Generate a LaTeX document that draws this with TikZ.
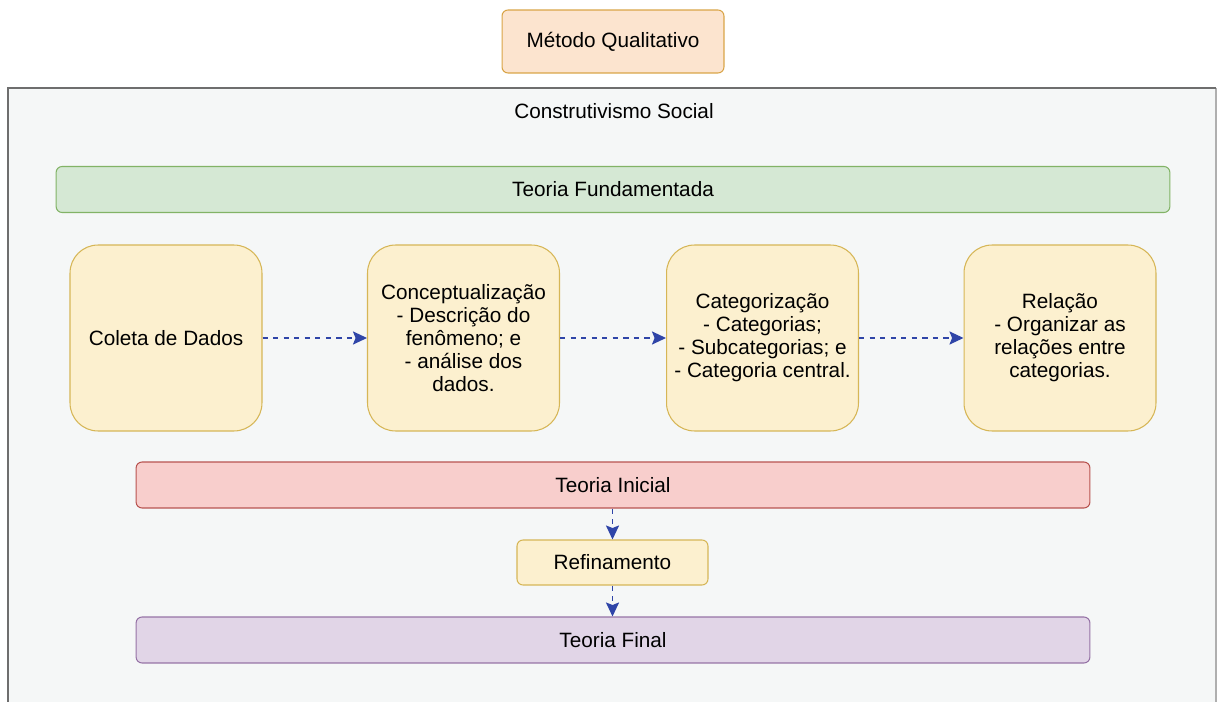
\documentclass[tikz,border=0pt]{standalone}
\usepackage{fontspec}
\setmainfont{Liberation Sans}
\usepackage{tikz}
\usetikzlibrary{arrows.meta, positioning}
\definecolor{orgfill}{HTML}{FCE4CF}
\definecolor{orgline}{HTML}{D9A447}
\definecolor{bgfill}{HTML}{F5F7F7}
\definecolor{bgline}{HTML}{6E6E6E}
\definecolor{grnfill}{HTML}{D5E8D4}
\definecolor{grnline}{HTML}{82B366}
\definecolor{ylwfill}{HTML}{FCF0CF}
\definecolor{ylwline}{HTML}{D6B656}
\definecolor{redfill}{HTML}{F8CECC}
\definecolor{redline}{HTML}{B85450}
\definecolor{purfill}{HTML}{E1D5E7}
\definecolor{purline}{HTML}{9673A6}
\definecolor{arrc}{HTML}{2F45A8}

\begin{document}
\begin{tikzpicture}[x=0.02cm, y=-0.02cm, >={Stealth[length=8pt, width=7.5pt, inset=1.5pt]},
      font=\fontsize{11.8}{13.1}\selectfont, line width=0.6pt,
      txt/.style={align=center, inner sep=0pt},
      bar/.style={rectangle, rounded corners=0.12cm, minimum height=0.92cm, txt},
      stage/.style={rectangle, rounded corners=0.56cm, draw=ylwline, fill=ylwfill,
        minimum width=3.84cm, minimum height=3.72cm, txt},
      flow/.style={->, arrc, dashed, line width=0.7pt}]
    \useasboundingbox (0,0) rectangle (1217,702);
    % container
    \fill[bgfill] (8,88) rectangle (1216,712);
    \draw[bgline!55, line width=0.6pt] (1216,88) -- (1216,712);
    \draw[bgline, line width=1.1pt] (8,712) -- (8,88) -- (1216,88);
    \node[txt] (social) at (614,111) {Construtivismo Social};
    \node[bar, draw=orgline, fill=orgfill, minimum width=4.44cm,
          minimum height=1.26cm] (metodo) at (613,41.5) {Método Qualitativo};
    \node[bar, draw=grnline, fill=grnfill, minimum width=22.28cm] (fund) at (613,189.5)
      {Teoria Fundamentada};
    \node[stage] (coleta) at (166,338) {Coleta de Dados};
    \node[stage] (concep) at (463.5,338)
      {Conceptualização\\- Descrição do\\fenômeno; e\\- análise dos\\dados.};
    \node[stage] (categ) at (762.5,338)
      {Categorização\\- Categorias;\\- Subcategorias; e\\- Categoria central.};
    \node[stage] (relac) at (1060,338)
      {Relação\\- Organizar as\\relações entre\\categorias.};
    \node[bar, draw=redline, fill=redfill, minimum width=19.08cm] (inicial) at (613,485)
      {Teoria Inicial};
    \node[bar, draw=ylwline, fill=ylwfill, minimum width=3.82cm, minimum height=0.9cm]
      (refin) at (612.5,562.5) {Refinamento};
    \node[bar, draw=purline, fill=purfill, minimum width=19.08cm] (final) at (613,640)
      {Teoria Final};
    \draw[flow] (coleta) -- (concep);
    \draw[flow] (concep) -- (categ);
    \draw[flow] (categ) -- (relac);
    \draw[flow] (inicial.south -| refin) -- (refin);
    \draw[flow] (refin) -- (final.north -| refin);
  \end{tikzpicture}
\end{document}
